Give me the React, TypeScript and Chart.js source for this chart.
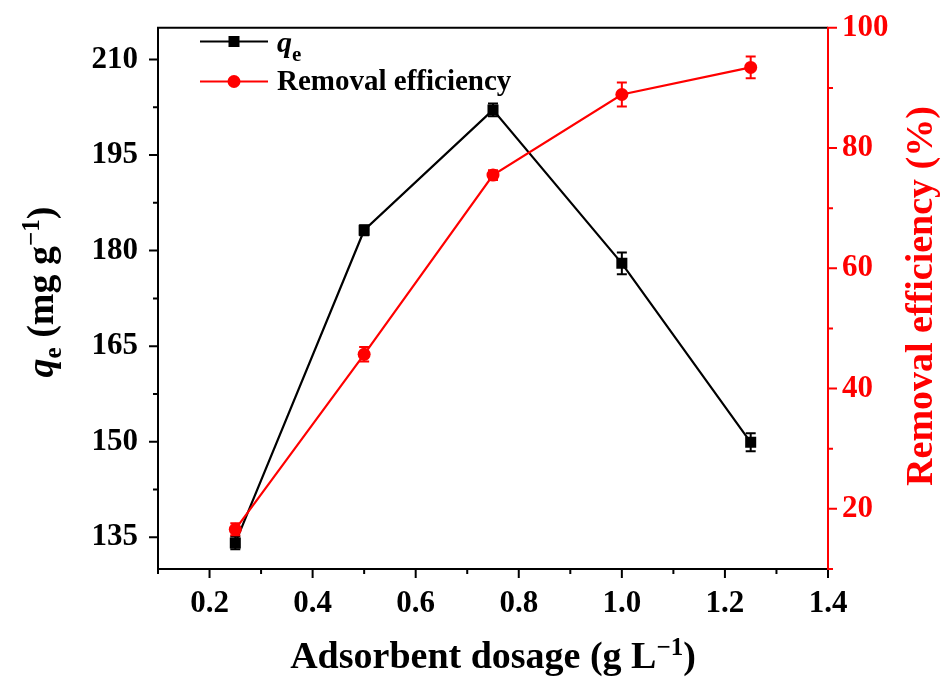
import React, { useEffect, useRef } from 'react';
import { Chart, registerables } from 'chart.js';

Chart.register(...registerables);

// Adsorbent dosage (g L^-1)
const dosage = [0.25, 0.5, 0.75, 1.0, 1.25];
// Adsorption capacity q_e (mg g^-1) with standard deviations
const qe = [134.1, 183.2, 202.1, 178.0, 149.9];
const qeErr = [1.0, 0.8, 1.0, 1.7, 1.4];
// Removal efficiency (%) with standard deviations
const removal = [16.6, 45.7, 75.5, 88.9, 93.4];
const removalErr = [1.0, 1.2, 0.8, 2.0, 1.8];

// Axis ticks
const xMajorTicks = [0.2, 0.4, 0.6, 0.8, 1.0, 1.2, 1.4];
const xMinorTicks = [0.1, 0.3, 0.5, 0.7, 0.9, 1.1, 1.3];
const qeMajorTicks = [135, 150, 165, 180, 195, 210];
const qeMinorTicks = [142.5, 157.5, 172.5, 187.5, 202.5];
const removalMajorTicks = [20, 40, 60, 80, 100];
const removalMinorTicks = [10, 30, 50, 70, 90];

const FAMILY = '"Liberation Serif", "Times New Roman", Times, serif';
const RED = '#ff0000';
const BLACK = '#000000';

type Seg = { t: string; size: number; italic?: boolean; dy?: number };

const fontOf = (s: Seg) => `${s.italic ? 'italic ' : ''}bold ${s.size}px ${FAMILY}`;

function drawRich(ctx: CanvasRenderingContext2D, segs: Seg[], x: number, y: number, align: 'left' | 'center', color: string) {
  ctx.fillStyle = color;
  ctx.textBaseline = 'alphabetic';
  ctx.textAlign = 'left';
  const widths = segs.map((s) => {
    ctx.font = fontOf(s);
    return ctx.measureText(s.t).width;
  });
  const total = widths.reduce((a, b) => a + b, 0);
  let cx = align === 'center' ? x - total / 2 : x;
  segs.forEach((s, i) => {
    ctx.font = fontOf(s);
    ctx.fillText(s.t, cx, y + (s.dy || 0));
    cx += widths[i];
  });
}

const errorsByDataset: number[][] = [removalErr, qeErr];

const errorBarPlugin = {
  id: 'errorBars',
  beforeDatasetDraw(chart: any, args: any) {
    const { ctx } = chart;
    const meta = args.meta;
    const ds = chart.data.datasets[args.index];
    const errs = errorsByDataset[args.index];
    const yScale = chart.scales[meta.yAxisID];
    ctx.save();
    ctx.strokeStyle = ds.borderColor;
    ctx.lineWidth = 2;
    meta.data.forEach((pt: any, i: number) => {
      const v = ds.data[i].y;
      const top = yScale.getPixelForValue(v + errs[i]);
      const bot = yScale.getPixelForValue(v - errs[i]);
      const x = pt.x;
      ctx.beginPath();
      ctx.moveTo(x, top);
      ctx.lineTo(x, bot);
      ctx.moveTo(x - 5, top);
      ctx.lineTo(x + 5, top);
      ctx.moveTo(x - 5, bot);
      ctx.lineTo(x + 5, bot);
      ctx.stroke();
    });
    ctx.restore();
  },
};

const framePlugin = {
  id: 'frame',
  afterDraw(chart: any) {
    const { ctx, chartArea: a, scales } = chart;
    const { left, right, top, bottom } = a;
    ctx.save();
    ctx.lineWidth = 2;
    ctx.lineCap = 'butt';

    // frame: black left, bottom, top
    ctx.strokeStyle = BLACK;
    ctx.beginPath();
    ctx.moveTo(left, top - 1);
    ctx.lineTo(left, bottom + 1);
    ctx.moveTo(left - 1, bottom);
    ctx.lineTo(right, bottom);
    ctx.moveTo(left - 1, top);
    ctx.lineTo(right, top);
    ctx.stroke();

    // bottom ticks
    ctx.beginPath();
    xMajorTicks.forEach((v) => {
      const x = scales.x.getPixelForValue(v);
      ctx.moveTo(x, bottom);
      ctx.lineTo(x, bottom + 9);
    });
    xMinorTicks.forEach((v) => {
      const x = scales.x.getPixelForValue(v);
      ctx.moveTo(x, bottom);
      ctx.lineTo(x, bottom + 5);
    });
    // left ticks
    qeMajorTicks.forEach((v) => {
      const y = scales.y.getPixelForValue(v);
      ctx.moveTo(left, y);
      ctx.lineTo(left - 9, y);
    });
    qeMinorTicks.forEach((v) => {
      const y = scales.y.getPixelForValue(v);
      ctx.moveTo(left, y);
      ctx.lineTo(left - 5, y);
    });
    ctx.stroke();

    // right red axis
    ctx.strokeStyle = RED;
    ctx.beginPath();
    ctx.moveTo(right, top - 1);
    ctx.lineTo(right, bottom + 1);
    removalMajorTicks.forEach((v) => {
      const y = scales.y1.getPixelForValue(v);
      ctx.moveTo(right, y);
      ctx.lineTo(right + 9, y);
    });
    removalMinorTicks.forEach((v) => {
      const y = scales.y1.getPixelForValue(v);
      ctx.moveTo(right, y);
      ctx.lineTo(right + 5, y);
    });
    ctx.stroke();

    // axis titles
    drawRich(
      ctx,
      [
        { t: 'Adsorbent dosage (g L', size: 38 },
        { t: '\u22121', size: 25, dy: -13 },
        { t: ')', size: 38 },
      ],
      (left + right) / 2,
      668,
      'center',
      BLACK
    );

    ctx.save();
    ctx.translate(53, 292);
    ctx.rotate(-Math.PI / 2);
    drawRich(
      ctx,
      [
        { t: 'q', size: 38, italic: true },
        { t: 'e', size: 25, dy: 8 },
        { t: ' (mg g', size: 38 },
        { t: '\u22121', size: 25, dy: -14 },
        { t: ')', size: 38 },
      ],
      0,
      0,
      'center',
      BLACK
    );
    ctx.restore();

    ctx.save();
    ctx.translate(932, 296);
    ctx.rotate(-Math.PI / 2);
    drawRich(ctx, [{ t: 'Removal efficiency (%)', size: 38 }], 0, 0, 'center', RED);
    ctx.restore();

    // legend
    const lx0 = 200;
    const lx1 = 268;
    const mx = 234;
    ctx.lineWidth = 2;
    ctx.strokeStyle = BLACK;
    ctx.beginPath();
    ctx.moveTo(lx0, 41.5);
    ctx.lineTo(lx1, 41.5);
    ctx.stroke();
    ctx.fillStyle = BLACK;
    ctx.fillRect(mx - 5.5, 41.5 - 5.5, 11, 11);
    drawRich(
      ctx,
      [
        { t: 'q', size: 30, italic: true },
        { t: 'e', size: 21, dy: 9 },
      ],
      277,
      52,
      'left',
      BLACK
    );

    ctx.strokeStyle = RED;
    ctx.beginPath();
    ctx.moveTo(lx0, 81.5);
    ctx.lineTo(lx1, 81.5);
    ctx.stroke();
    ctx.fillStyle = RED;
    ctx.beginPath();
    ctx.arc(mx, 81.5, 6.5, 0, Math.PI * 2);
    ctx.fill();
    drawRich(ctx, [{ t: 'Removal efficiency', size: 29 }], 277, 90, 'left', BLACK);

    ctx.restore();
  },
};

const tickFont = { family: FAMILY, size: 31, weight: 'bold' as const };
// Compact line height on the vertical axes keeps the plot area pinned to the layout padding
const yTickFont = { family: FAMILY, size: 31, weight: 'bold' as const, lineHeight: 0.5 };

export default function App() {
  const canvasRef = useRef<HTMLCanvasElement | null>(null);

  useEffect(() => {
    const canvas = canvasRef.current;
    if (!canvas) return;
    const chart = new Chart(canvas, {
      type: 'line',
      data: {
        datasets: [
          {
            label: 'Removal efficiency',
            data: dosage.map((x, i) => ({ x, y: removal[i] })),
            yAxisID: 'y1',
            borderColor: RED,
            backgroundColor: RED,
            borderWidth: 2.2,
            pointStyle: 'circle',
            pointRadius: 6.5,
            pointBorderWidth: 0,
            tension: 0,
          },
          {
            label: 'qe',
            data: dosage.map((x, i) => ({ x, y: qe[i] })),
            yAxisID: 'y',
            borderColor: BLACK,
            backgroundColor: BLACK,
            borderWidth: 2.2,
            pointStyle: 'rect',
            pointRadius: 7.8,
            pointBorderWidth: 0,
            tension: 0,
          },
        ],
      },
      options: {
        responsive: false,
        animation: false,
        layout: { padding: { top: 25, left: 0, right: 0, bottom: 0 } },
        plugins: { legend: { display: false }, tooltip: { enabled: false } },
        scales: {
          x: {
            type: 'linear',
            position: 'bottom',
            min: 0.1,
            max: 1.4,
            grid: { display: false, drawTicks: false },
            border: { display: false },
            ticks: {
              color: BLACK,
              font: tickFont,
              padding: 16,
              maxRotation: 0,
              autoSkip: false,
              callback: (v: any) => Number(v).toFixed(1),
            },
            afterBuildTicks: (s: any) => {
              s.ticks = xMajorTicks.map((value) => ({ value }));
            },
            afterFit: (s: any) => {
              s.height = 108;
            },
          },
          y: {
            type: 'linear',
            position: 'left',
            min: 130,
            max: 215,
            grid: { display: false, drawTicks: false },
            border: { display: false },
            ticks: {
              color: BLACK,
              font: yTickFont,
              padding: 20,
              autoSkip: false,
              callback: (v: any) => String(v),
            },
            afterBuildTicks: (s: any) => {
              s.ticks = qeMajorTicks.map((value) => ({ value }));
            },
            afterFit: (s: any) => {
              s.width = 158;
            },
          },
          y1: {
            type: 'linear',
            position: 'right',
            min: 10,
            max: 100,
            grid: { display: false, drawTicks: false },
            border: { display: false },
            ticks: {
              color: RED,
              font: yTickFont,
              padding: 14,
              autoSkip: false,
              callback: (v: any) => String(v),
            },
            afterBuildTicks: (s: any) => {
              s.ticks = removalMajorTicks.map((value) => ({ value }));
            },
            afterFit: (s: any) => {
              s.width = 120;
            },
          },
        },
      },
      plugins: [errorBarPlugin, framePlugin],
    });
    return () => chart.destroy();
  }, []);

  return (
    <div style={{ position: 'absolute', left: 0, top: 0, width: 948, height: 677, background: '#fff' }}>
      <canvas ref={canvasRef} width={948} height={677} />
    </div>
  );
}
